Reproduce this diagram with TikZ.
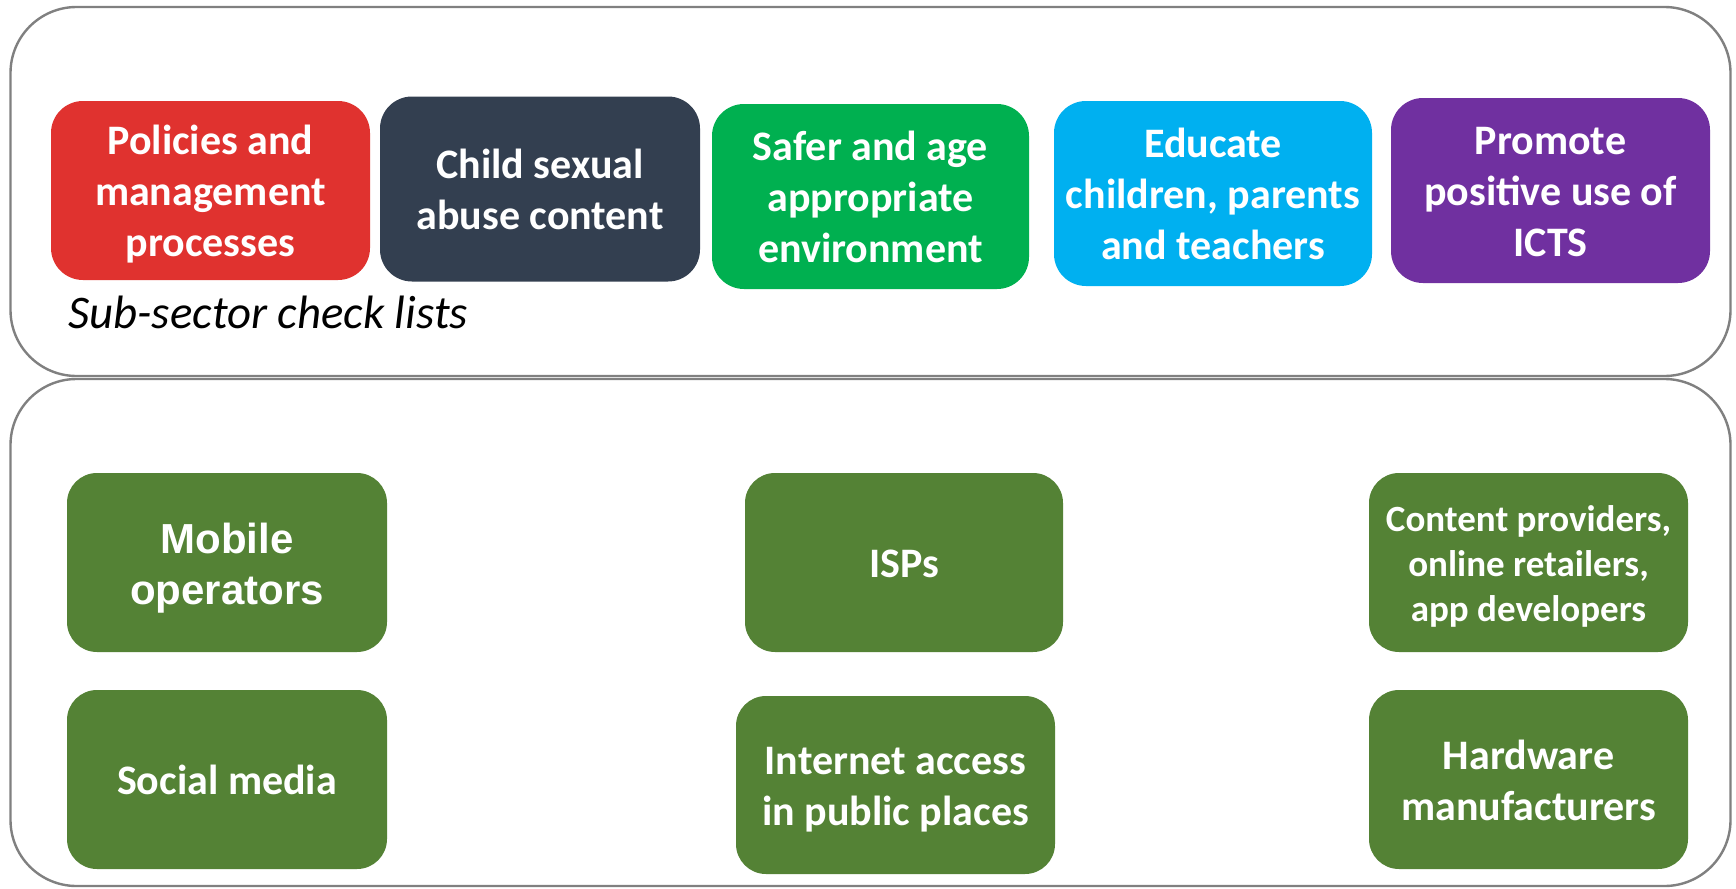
\documentclass[tikz,border=0pt]{standalone}
\usepackage{fontspec}
\setmainfont{Carlito}
\newfontfamily\arialfont{Liberation Sans}
\definecolor{framegray}{HTML}{808080}
\definecolor{policyred}{HTML}{E0322F}
\definecolor{abusenavy}{HTML}{333F50}
\definecolor{safegreen}{HTML}{00B050}
\definecolor{educyan}{HTML}{00B0F0}
\definecolor{promopurple}{HTML}{7030A0}
\definecolor{sectorgreen}{HTML}{548235}
% centred lines, set a little lower than the box centre
\newcommand\boxlines[2][2.5pt]{\raisebox{-#1}[\height][\depth]{\begin{tabular}{@{}c@{}}#2\end{tabular}}}
\begin{document}
\begin{tikzpicture}[x=0.5pt,y=-0.5pt,
  frame/.style={draw=framegray, line width=1.2pt, rounded corners=33pt, inner sep=0pt, minimum width=860pt},
  themebox/.style={rounded corners=16pt, inner sep=0pt, text=white,
    minimum width=159.5pt, minimum height=92.5pt, font=\bfseries\fontsize{21}{25.5}\selectfont},
  sectorbox/.style={fill=sectorgreen, rounded corners=15pt, inner sep=0pt, text=white,
    minimum width=159.5pt, minimum height=89.5pt, font=\bfseries\fontsize{21}{25.5}\selectfont}]
\useasboundingbox (0,0) rectangle (1736,889);
\fill[white] (0,0) rectangle (1736,889);

% two panels
\node[frame, minimum height=184.5pt] (checkpanel) at (870.5,191.5) {};
\node[frame, minimum height=253.5pt] (sectorpanel) at (870.5,632.5) {};

% sub-sector check list themes
\node[themebox, fill=policyred, minimum height=89.5pt] (policies) at (210.5,190.5) {\boxlines{Policies and\\management\\processes}};
\node[themebox, fill=abusenavy, minimum width=160pt] (abuse) at (540,189) {\boxlines{Child sexual\\abuse content}};
\node[themebox, fill=safegreen, minimum width=158.5pt] (safer) at (870.5,196.5) {\boxlines{Safer and age\\appropriate\\environment}};
\node[themebox, fill=educyan, minimum width=159pt] (educate) at (1213,193.5) {\boxlines{Educate\\children, parents\\and teachers}};
\node[themebox, fill=promopurple] (promote) at (1550.5,190.5) {\boxlines{Promote\\positive use of\\ICTS}};
\node[anchor=base west, inner sep=0pt, font=\itshape\fontsize{23.4}{28}\selectfont] (checklabel) at (68,328.5) {Sub-sector check lists};

% industry sectors
\node[sectorbox, minimum width=160pt, font=\arialfont\bfseries\fontsize{21}{25.5}\selectfont] (mobile) at (227,562.5) {\boxlines[3.2pt]{Mobile\\operators}};
\node[sectorbox, minimum width=160pt] (social) at (227,779.5) {\boxlines{Social media}};
\node[sectorbox, minimum width=159pt] (isps) at (904,562.5) {\boxlines{ISPs}};
\node[sectorbox, minimum height=89pt] (publicnet) at (895.5,785) {\boxlines{Internet access\\in public places}};
\node[sectorbox, font=\bfseries\fontsize{18.5}{22.5}\selectfont] (content) at (1528.5,562.5) {\boxlines{Content providers,\\online retailers,\\app developers}};
\node[sectorbox] (hardware) at (1528.5,779.5) {\boxlines{Hardware\\manufacturers}};
\end{tikzpicture}
\end{document}
